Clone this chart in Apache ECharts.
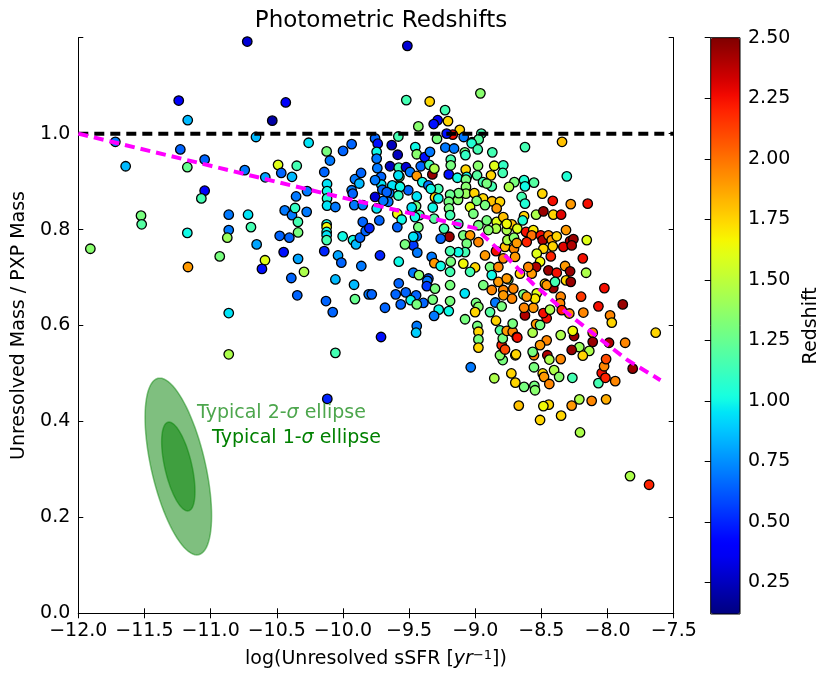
<!DOCTYPE html>
<html>
<head>
<meta charset="utf-8">
<script src="https://cdn.jsdelivr.net/npm/echarts@6.0.0/dist/echarts.min.js"></script>
<style>
  html, body { margin: 0; padding: 0; background: #fff; }
  #chart { width: 831px; height: 684px; }
</style>
</head>
<body>
<div id="chart"></div>
<script>
// each point: [log sSFR, unresolved/PXP mass ratio, redshift]
const leftPoints = [
  [-10.723,1.192,0.3],[-11.241,1.069,0.4],[-10.432,1.065,0.4],[-11.173,1.028,0.85],[-10.534,1.027,0.2],
  [-11.72,0.983,0.7],[-10.657,0.993,0.85],[-10.259,0.981,0.95],[-11.229,0.967,0.65],[-11.045,0.946,0.65],
  [-11.642,0.932,0.85],[-11.176,0.930,1.25],[-10.742,0.924,0.7],[-10.587,0.909,0.8],[-10.490,0.935,1.6],
  [-10.349,0.933,1.15],[-10.466,0.918,0.65],[-10.385,0.910,0.85],[-10.141,0.920,0.65],[-10.123,0.963,1.3],
  [-10.098,0.944,0.7],[-11.045,0.881,0.4],[-11.07,0.865,1.15],[-10.271,0.880,0.7],[-10.354,0.869,0.7],
  [-10.12,0.895,0.95],[-10.12,0.88,1.0],[-10.12,0.865,1.05],[-10.12,0.85,0.95],[-10.44,0.840,0.7],
  [-10.385,0.830,0.7],[-10.362,0.845,1.1],[-10.274,0.837,0.7],[-10.34,0.816,1.15],[-11.526,0.829,1.3],
  [-11.521,0.811,1.2],[-10.863,0.831,0.7],[-10.717,0.831,0.95],[-10.695,0.805,1.15],[-11.909,0.760,1.35],
  [-11.176,0.793,1.0],[-11.171,0.722,1.9],[-10.863,0.799,0.7],[-10.874,0.783,1.4],[-10.652,0.769,0.8],
  [-10.931,0.744,1.3],[-10.589,0.736,1.6],[-10.612,0.718,0.45],[-10.478,0.787,0.65],[-10.405,0.783,0.65],
  [-10.339,0.794,1.3],[-10.448,0.753,0.45],[-10.339,0.739,0.8],[-10.294,0.712,1.45],[-10.39,0.699,0.65],
  [-10.345,0.663,0.65],[-10.863,0.626,0.95],[-10.863,0.540,1.45],[-10.057,0.543,1.15],[-10.118,0.447,0.5],
  [-10.123,0.811,1.0],[-10.123,0.805,1.65],[-10.123,0.795,1.0],[-10.123,0.788,0.95],[-10.123,0.778,1.15],
  [-10.057,0.847,0.7],[-10.141,0.755,0.5],[-10.037,0.746,0.8],[-10.012,0.731,0.65],[-10.057,0.696,0.85],
  [-10.128,0.651,0.65],[-10.077,0.628,0.65]
];

const midPoints = [
  [-10.002,0.786,1.0],[-9.924,0.778,1.0],[-9.901,0.769,0.85],[-9.871,0.783,0.65],[-9.85,0.816,0.65],
  [-9.828,0.797,0.65],[-9.861,0.724,0.7],[-9.916,0.685,0.85],[-9.909,0.655,1.25],[-9.805,0.665,0.7],
  [-9.914,0.851,0.7],[-9.85,0.851,0.7],[-9.513,1.183,0.3],[-9.521,1.070,1.15],[-9.344,1.067,1.75],
  [-8.961,1.084,1.35],[-9.228,1.049,1.15],[-9.284,1.028,0.4],[-9.314,1.020,0.45],[-9.206,1.026,1.75],
  [-9.43,1.015,1.35],[-9.117,1.008,1.75],[-9.17,0.998,2.25],[-9.024,0.982,1.7],[-8.954,1.000,1.15],
  [-8.974,0.988,1.2],[-9.289,0.989,1.3],[-9.216,1.000,0.45],[-9.087,0.993,0.7],[-9.581,0.994,1.15],
  [-9.934,0.978,0.65],[-9.999,0.964,0.65],[-9.757,0.99,0.65],[-9.737,0.979,0.45],[-9.745,0.962,1.0],
  [-9.745,0.948,0.7],[-9.631,0.976,0.25],[-9.586,0.956,0.25],[-9.934,0.882,0.7],[-9.909,0.905,0.7],
  [-9.863,0.918,0.65],[-9.876,0.896,0.85],[-9.926,0.875,0.65],[-9.644,0.932,0.25],[-9.578,0.929,1.15],
  [-9.573,0.910,1.3],[-9.575,0.891,1.75],[-9.523,0.930,0.3],[-9.712,0.910,0.65],[-9.71,0.894,0.95],
  [-9.627,0.892,0.95],[-9.757,0.868,0.3],[-9.702,0.883,0.65],[-9.649,0.876,0.7],[-9.453,0.972,1.0],
  [-9.442,0.957,1.35],[-9.382,0.951,0.45],[-9.342,0.962,0.7],[-9.493,0.920,0.7],[-9.442,0.912,1.9],
  [-9.412,0.932,0.65],[-9.347,0.935,1.15],[-9.324,0.915,2.45],[-9.309,0.927,1.45],[-9.226,0.971,0.7],
  [-9.16,0.969,0.7],[-9.2,0.915,0.45],[-9.185,0.946,1.15],[-9.185,0.934,1.3],[-9.079,0.961,1.3],
  [-9.072,0.925,1.75],[-8.979,0.933,1.35],[-8.871,0.961,1.15],[-8.856,0.933,1.6],[-8.881,0.913,1.75],
  [-8.986,0.913,1.2],[-8.941,0.899,1.15],[-8.875,0.890,1.15],[-9.064,0.910,1.0]
];

const corePoints = [
  [-9.074,0.955,1.1],[-9.027,0.980,1.05],[-8.981,0.967,1.15],[-8.788,0.934,1.1],[-8.792,0.918,1.15],
  [-8.704,0.899,1.3],[-8.745,0.889,1.45],[-9.74,0.928,0.7],[-9.581,0.913,0.95],[-9.4,0.899,1.0],
  [-9.354,0.892,0.7],[-9.279,0.885,1.15],[-9.135,0.908,1.0],[-9.07,0.904,1.3],[-9.07,0.889,1.35],
  [-9.07,0.875,1.4],[-9.007,0.876,1.75],[-8.913,0.896,1.3],[-8.941,0.865,1.75],[-8.873,0.859,1.8],
  [-8.813,0.858,1.75],[-8.838,0.844,1.9],[-8.926,0.851,1.3],[-8.989,0.860,1.3],[-9.039,0.847,1.6],
  [-9.014,0.833,1.3],[-9.13,0.862,1.35],[-9.125,0.876,1.3],[-9.19,0.873,1.25],[-9.2,0.858,1.3],
  [-9.198,0.844,1.3],[-9.19,0.830,1.15],[-9.304,0.867,1.75],[-9.279,0.865,1.0],[-9.321,0.846,1.0],
  [-9.336,0.885,1.0],[-9.442,0.869,0.95],[-9.447,0.849,1.3],[-9.422,0.830,1.15],[-9.43,0.805,1.3],
  [-9.506,0.882,0.65],[-9.568,0.889,1.0],[-9.581,0.871,1.1],[-9.669,0.878,0.65],[-9.657,0.858,0.7],
  [-9.745,0.844,0.95],[-9.695,0.860,0.7],[-9.725,0.819,0.65],[-9.589,0.833,1.65],[-9.556,0.821,1.0],
  [-9.589,0.805,0.65],[-9.48,0.846,0.95],[-9.455,0.826,1.0],[-9.311,0.823,1.2],[-9.236,0.802,1.15],
  [-9.128,0.812,1.15],[-9.09,0.788,1.3],[-9.039,0.788,1.9],[-9.064,0.771,1.3],[-9.077,0.753,1.15],
  [-9.128,0.753,1.0],[-9.09,0.729,1.65],[-9.001,0.721,1.75],[-9.039,0.712,1.15],[-8.976,0.774,1.95],
  [-8.976,0.809,1.3],[-8.913,0.819,1.3],[-8.838,0.816,1.6],[-8.788,0.826,1.8],[-8.762,0.799,1.45],
  [-8.843,0.802,1.45],[-8.901,0.799,1.35],[-8.926,0.746,1.9],[-8.843,0.755,2.25],[-8.775,0.764,1.8],
  [-8.788,0.740,1.95],[-8.707,0.760,1.95],[-8.699,0.743,1.9],[-8.888,0.722,1.3],[-8.825,0.722,1.95],
  [-9.195,0.785,2.45],[-9.261,0.781,0.65],[-9.19,0.755,1.15],[-9.442,0.786,0.7],[-9.468,0.767,0.55],
  [-9.438,0.752,0.7],[-9.531,0.769,1.3],[-9.468,0.785,0.95],[-9.72,0.746,0.5],[-9.578,0.733,1.0],
  [-9.329,0.743,0.7],[-9.309,0.730,1.9],[-9.261,0.724,1.0],[-9.185,0.733,1.3],[-9.468,0.710,0.7],
  [-9.425,0.705,1.35],[-9.354,0.698,0.6],[-9.19,0.712,1.15],[-9.757,0.903,0.7],[-9.8,0.803,0.5],
  [-9.362,0.693,0.7],[-9.366,0.682,0.55],[-9.304,0.677,1.3],[-9.19,0.684,1.3],[-9.578,0.688,0.65],
  [-9.601,0.665,0.65],[-9.525,0.669,0.65],[-9.447,0.663,0.65],[-9.392,0.647,0.65],[-9.488,0.653,1.0],
  [-9.442,0.644,1.3],[-9.563,0.644,0.65],[-9.682,0.637,0.65],[-9.782,0.665,0.65],[-9.321,0.654,1.3],
  [-9.276,0.633,1.0],[-9.311,0.620,0.7],[-9.2,0.630,1.0],[-9.19,0.651,1.3],[-9.079,0.667,0.95],
  [-9.077,0.613,1.3],[-8.994,0.647,1.3],[-8.976,0.639,1.35],[-9.001,0.628,1.75],[-8.939,0.684,1.3],
  [-8.888,0.628,1.2],[-8.843,0.610,1.75],[-8.984,0.599,1.3],[-8.976,0.587,1.75],[-8.976,0.571,1.3],
  [-8.976,0.554,1.75],[-9.442,0.599,0.7],[-9.447,0.585,0.9],[-9.712,0.576,0.45],[-9.034,0.513,0.7],
  [-8.856,0.490,1.45],[-8.727,0.500,1.75],[-8.697,0.481,1.75],[-8.671,0.433,1.8],[-8.697,0.538,1.75],
  [-8.792,0.528,1.3],[-8.813,0.538,1.35],[-8.8,0.559,2.2],[-8.775,0.550,2.1],[-8.813,0.590,1.2],
  [-8.792,0.573,1.3],[-8.762,0.589,1.9],[-8.717,0.587,1.95],[-8.717,0.604,1.3],[-8.686,0.576,2.25],
  [-8.848,0.648,0.7],[-8.8,0.640,1.3],[-8.875,0.674,1.95],[-8.788,0.674,1.95],[-8.825,0.691,1.9],
  [-8.75,0.696,1.35],[-8.712,0.677,1.95],[-8.722,0.656,1.95],[-8.875,0.705,1.0]
];

const rightPoints = [
  [-8.624,0.972,1.15],[-8.344,0.983,1.8],[-8.631,0.903,1.05],[-8.624,0.890,1.0],[-8.556,0.898,1.2],
  [-8.308,0.911,1.05],[-8.493,0.875,1.75],[-8.414,0.860,2.25],[-8.278,0.853,1.9],[-8.15,0.854,2.25],
  [-8.649,0.868,1.15],[-8.624,0.854,1.05],[-8.54,0.831,1.45],[-8.485,0.838,2.45],[-8.41,0.831,1.75],
  [-8.351,0.831,2.3],[-8.631,0.828,1.75],[-8.641,0.819,1.05],[-8.724,0.811,1.8],[-8.682,0.802,1.6],
  [-8.762,0.812,1.65],[-8.757,0.778,1.45],[-8.707,0.783,1.35],[-8.616,0.795,2.25],[-8.561,0.799,1.7],
  [-8.573,0.788,2.0],[-8.611,0.774,2.2],[-8.686,0.772,1.9],[-8.505,0.788,2.25],[-8.49,0.778,2.4],
  [-8.447,0.788,1.95],[-8.422,0.778,1.9],[-8.384,0.786,1.75],[-8.414,0.765,1.75],[-8.314,0.799,1.9],
  [-8.283,0.776,2.4],[-8.258,0.780,2.45],[-8.334,0.764,2.3],[-8.271,0.767,2.4],[-8.157,0.778,1.6],
  [-8.187,0.740,2.25],[-8.162,0.710,1.45],[-8.024,0.678,2.25],[-8.2,0.660,2.15],[-8.485,0.760,1.75],
  [-8.535,0.750,1.6],[-8.429,0.744,2.2],[-8.51,0.733,1.65],[-8.54,0.722,2.4],[-8.447,0.715,2.45],
  [-8.384,0.710,2.25],[-8.321,0.724,1.9],[-8.283,0.713,2.45],[-8.314,0.694,1.75],[-8.278,0.691,2.45],
  [-8.41,0.678,2.45],[-8.473,0.687,1.75],[-8.573,0.708,1.9],[-8.599,0.722,1.95],[-8.662,0.708,1.75],
  [-8.762,0.698,1.9],[-8.535,0.667,1.6],[-8.636,0.665,1.3],[-8.354,0.660,1.95],[-8.069,0.640,2.25],
  [-7.885,0.644,2.45],[-7.981,0.621,1.95],[-7.968,0.606,1.75],[-7.636,0.585,1.75],[-7.867,0.564,1.95],
  [-7.989,0.564,2.4],[-8.112,0.585,1.95],[-8.112,0.566,2.45],[-8.138,0.547,1.45],[-8.213,0.555,1.4],
  [-8.187,0.537,1.75],[-8.253,0.578,2.45],[-8.271,0.549,2.45],[-8.263,0.589,1.65],[-8.183,0.627,1.95],
  [-8.354,0.580,1.45],[-8.354,0.530,1.95],[-8.455,0.538,2.4],[-8.44,0.529,1.45],[-8.46,0.569,1.95],
  [-8.51,0.559,1.9],[-8.556,0.538,1.95],[-8.566,0.545,1.3],[-8.566,0.585,1.45],[-8.54,0.603,1.9],
  [-8.692,0.540,1.75],[-8.682,0.575,2.25],[-8.631,0.472,1.3],[-8.553,0.474,1.3],[-8.548,0.465,1.35],
  [-8.556,0.513,1.3],[-8.49,0.500,1.75],[-8.48,0.493,1.9],[-8.44,0.478,1.95],[-8.404,0.507,1.45],
  [-8.366,0.493,1.35],[-8.266,0.491,1.15],[-8.069,0.480,1.15],[-8.044,0.501,2.25],[-8.026,0.515,1.95],
  [-8.011,0.530,2.1],[-8.016,0.491,2.2],[-7.942,0.484,1.95],[-7.81,0.510,2.45],[-8.213,0.446,1.45],
  [-8.12,0.443,1.95],[-8.011,0.446,1.85],[-8.271,0.433,1.9],[-8.351,0.412,1.75],[-8.444,0.435,1.75],
  [-8.485,0.432,1.65],[-8.51,0.403,1.75],[-8.208,0.377,1.45],[-7.83,0.286,1.45],[-7.686,0.268,2.2],
  [-8.359,0.646,1.95],[-8.346,0.632,2.2],[-8.289,0.625,1.95],[-8.46,0.615,2.25],[-8.485,0.626,2.25],
  [-8.435,0.633,1.45],[-8.624,0.621,2.4],[-8.561,0.637,1.9],[-8.631,0.637,1.95],[-8.548,0.656,1.7],
  [-8.611,0.660,1.9],[-8.788,0.663,1.9],[-8.51,0.601,1.3],[-8.46,0.684,1.9],[-8.397,0.691,1.15]
];

// reference line (mass ratio = 1) and the magenta trend
const refX = [-12.0, -7.5];
const refY = [1.0, 1.0];
const trendX = [-12.0, -11.0, -10.15, -9.32, -9.0, -8.87, -8.76, -8.56, -8.31, -8.08, -7.85, -7.6];
const trendY = [1.0, 0.933, 0.876, 0.823, 0.803, 0.770, 0.742, 0.686, 0.627, 0.577, 0.528, 0.486];

// typical error ellipse centre
const ellipseCenter = [-11.244, 0.306];

const xTicks = [-12.0, -11.5, -11.0, -10.5, -10.0, -9.5, -9.0, -8.5, -8.0, -7.5];
const cbarTicks = [0.25, 0.50, 0.75, 1.00, 1.25, 1.50, 1.75, 2.00, 2.25, 2.50];
const zMin = 0.12, zMax = 2.5;

// matplotlib "jet" colormap
function jetChannel(segs, t) {
  for (let i = 0; i < segs.length - 1; i++) {
    if (t <= segs[i + 1][0]) {
      const f = (t - segs[i][0]) / (segs[i + 1][0] - segs[i][0]);
      return segs[i][1] + f * (segs[i + 1][1] - segs[i][1]);
    }
  }
  return segs[segs.length - 1][1];
}
function jet(t) {
  const r = jetChannel([[0, 0], [0.35, 0], [0.66, 1], [0.89, 1], [1, 0.5]], t);
  const g = jetChannel([[0, 0], [0.125, 0], [0.375, 1], [0.64, 1], [0.91, 0], [1, 0]], t);
  const b = jetChannel([[0, 0.5], [0.11, 1], [0.34, 1], [0.65, 0], [1, 0]], t);
  const h = v => Math.round(v * 255).toString(16).padStart(2, '0');
  return '#' + h(r) + h(g) + h(b);
}
const jetColors = [];
for (let k = 0; k <= 40; k++) jetColors.push(jet(k / 40));

const FONT = 'DejaVu Sans';
const minus = v => String(v).replace('-', '\u2212');

const points = leftPoints.concat(midPoints, corePoints, rightPoints);

const chart = echarts.init(document.getElementById('chart'));

const option = {
  animation: false,
  backgroundColor: '#fff',
  title: {
    text: 'Photometric Redshifts',
    left: 376,
    top: 5,
    textAlign: 'center',
    textStyle: { fontFamily: FONT, fontSize: 23, fontWeight: 'normal', color: '#000' }
  },
  grid: [
    { left: 78.3, top: 37.7, width: 595.4, height: 575.6 },
    { left: 710.7, top: 37.7, width: 29.3, height: 576.3 }
  ],
  xAxis: [
    {
      gridIndex: 0, type: 'value', min: -12, max: -7.5, interval: 0.5,
      name: 'log(Unresolved sSFR [{i|yr}{sup|\u22121}])',
      nameLocation: 'middle', nameGap: 36,
      nameTextStyle: {
        fontFamily: FONT, fontSize: 19, color: '#000',
        rich: {
          i: { fontFamily: FONT, fontSize: 19, fontStyle: 'italic', color: '#000' },
          sup: { fontFamily: FONT, fontSize: 13, color: '#000', verticalAlign: 'top', padding: [0, 0, 6, 0] }
        }
      },
      axisLine: { lineStyle: { color: '#000', width: 1 } },
      axisTick: { inside: true, length: 5, lineStyle: { color: '#000' } },
      axisLabel: {
        fontFamily: FONT, fontSize: 19, color: '#000', margin: 8,
        formatter: v => minus(v.toFixed(1))
      },
      splitLine: { show: false }
    },
    {
      gridIndex: 0, type: 'value', position: 'top', min: -12, max: -7.5, interval: 0.5,
      axisLine: { lineStyle: { color: '#000', width: 1 } },
      axisTick: { inside: true, length: 5, lineStyle: { color: '#000' } },
      axisLabel: { show: false },
      splitLine: { show: false }
    },
    {
      gridIndex: 1, type: 'value', min: 0, max: 1, show: false
    }
  ],
  yAxis: [
    {
      gridIndex: 0, type: 'value', min: 0, max: 1.2, interval: 0.2,
      name: 'Unresolved Mass / PXP Mass',
      nameLocation: 'middle', nameGap: 50,
      nameTextStyle: { fontFamily: FONT, fontSize: 19, color: '#000' },
      axisLine: { lineStyle: { color: '#000', width: 1 } },
      axisTick: { inside: true, length: 5, lineStyle: { color: '#000' } },
      axisLabel: {
        fontFamily: FONT, fontSize: 19, color: '#000', margin: 8,
        formatter: v => (v > 1.1 ? '' : v.toFixed(1))
      },
      splitLine: { show: false }
    },
    {
      gridIndex: 0, type: 'value', position: 'right', min: 0, max: 1.2, interval: 0.2,
      axisLine: { lineStyle: { color: '#000', width: 1 } },
      axisTick: { inside: true, length: 5, lineStyle: { color: '#000' } },
      axisLabel: { show: false },
      splitLine: { show: false }
    },
    {
      gridIndex: 1, type: 'value', position: 'right', min: zMin, max: zMax, z: 10,
      name: 'Redshift',
      nameLocation: 'middle', nameGap: 62,
      nameTextStyle: { fontFamily: FONT, fontSize: 19, color: '#000' },
      axisLine: { show: false },
      axisTick: { inside: true, length: 6, customValues: cbarTicks, lineStyle: { color: '#000' } },
      axisLabel: {
        fontFamily: FONT, fontSize: 19, color: '#000', margin: 8,
        customValues: cbarTicks,
        formatter: v => v.toFixed(2)
      },
      splitLine: { show: false }
    }
  ],
  visualMap: {
    type: 'continuous',
    min: zMin, max: zMax,
    dimension: 2,
    seriesIndex: 0,
    calculable: false,
    realtime: false,
    left: 710.7, top: 37.7,
    itemWidth: 29.3, itemHeight: 576.3,
    padding: 0,
    text: null,
    hoverLink: false,
    inRange: { color: jetColors }
  },
  graphic: [
    {
      type: 'rect', z: 100,
      shape: { x: 710.7, y: 37.7, width: 29.3, height: 576.3 },
      style: { fill: 'none', stroke: '#000', lineWidth: 1 }
    },
    {
      type: 'text', x: 197, y: 413, z: 50,
      style: {
        text: 'Typical 2-{s|\u03c3} ellipse',
        font: '19px "DejaVu Sans"', fill: '#4da64d', verticalAlign: 'middle',
        rich: { s: { fontStyle: 'italic', fontFamily: FONT, fontSize: 19, fill: '#4da64d' } }
      }
    },
    {
      type: 'text', x: 212, y: 438, z: 50,
      style: {
        text: 'Typical 1-{s|\u03c3} ellipse',
        font: '19px "DejaVu Sans"', fill: '#008000', verticalAlign: 'middle',
        rich: { s: { fontStyle: 'italic', fontFamily: FONT, fontSize: 19, fill: '#008000' } }
      }
    }
  ],
  series: [
    {
      type: 'scatter',
      xAxisIndex: 0, yAxisIndex: 0,
      data: points,
      symbolSize: 9.5,
      itemStyle: { borderColor: '#000', borderWidth: 1.3, opacity: 1 },
      emphasis: { disabled: true },
      z: 3
    },
    {
      type: 'line',
      xAxisIndex: 0, yAxisIndex: 0,
      data: refX.map((x, i) => [x, refY[i]]),
      symbol: 'none',
      lineStyle: { color: '#000', width: 4, type: [10, 6] },
      z: 4
    },
    {
      type: 'line',
      xAxisIndex: 0, yAxisIndex: 0,
      data: trendX.map((x, i) => [x, trendY[i]]),
      symbol: 'none',
      lineStyle: { color: '#ff00ff', width: 4, type: [10, 6] },
      z: 4
    },
    {
      type: 'custom',
      xAxisIndex: 0, yAxisIndex: 0,
      data: [ellipseCenter],
      silent: true,
      z: 2,
      renderItem: function (params, api) {
        const c = api.coord([api.value(0), api.value(1)]);
        const tilt = 13 * Math.PI / 180;
        const ux = Math.sin(tilt), uy = Math.cos(tilt);
        const vx = Math.cos(tilt), vy = -Math.sin(tilt);
        function ring(a, b) {
          const pts = [];
          for (let k = 0; k < 90; k++) {
            const th = k / 90 * 2 * Math.PI;
            pts.push([c[0] + a * Math.cos(th) * ux + b * Math.sin(th) * vx,
                      c[1] + a * Math.cos(th) * uy + b * Math.sin(th) * vy]);
          }
          return pts;
        }
        return {
          type: 'group',
          children: [
            { type: 'polygon', shape: { points: ring(90.5, 27) },
              style: { fill: 'rgba(0,128,0,0.5)', stroke: 'rgba(0,128,0,0.45)', lineWidth: 1.5 } },
            { type: 'polygon', shape: { points: ring(45.5, 13.5) },
              style: { fill: 'rgba(0,128,0,0.5)', stroke: 'rgba(0,128,0,0.45)', lineWidth: 1.5 } }
          ]
        };
      }
    }
  ]
};

chart.setOption(option);
</script>
</body>
</html>
